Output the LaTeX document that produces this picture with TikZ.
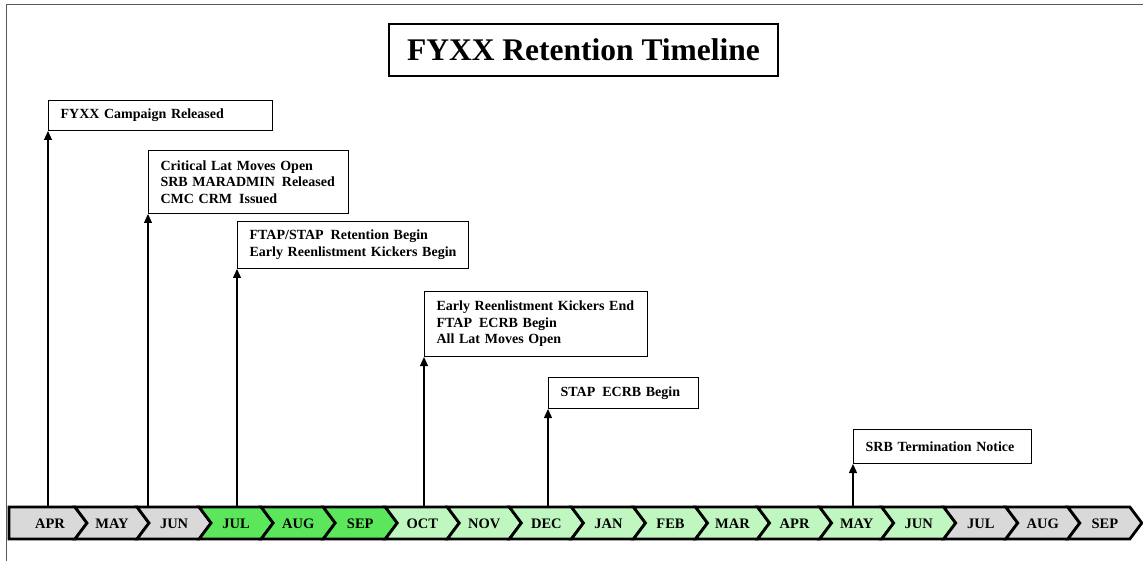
\documentclass[tikz,border=0pt]{standalone}
\usepackage{fontspec}
\setmainfont{Liberation Serif}
\usepackage{xcolor}
\usetikzlibrary{arrows.meta,positioning}

\definecolor{mgrey}{HTML}{D9D9D9}
\definecolor{mgreen}{HTML}{5CE65C}
\definecolor{mlight}{HTML}{C0F7C0}

\begin{document}
\begin{tikzpicture}[
        x=1pt, y=-1pt,
        event/.style={rectangle, draw, line width=1.2pt, anchor=south west, align=left,
            inner xsep=12pt, inner ysep=0pt,
            font=\fontsize{14}{16.5}\selectfont\bfseries},
        title/.style={rectangle, draw, line width=1.2pt, minimum width=389pt, minimum height=52pt,
            font=\fontsize{31.5}{33}\selectfont\bfseries},
        tick/.style={-{Triangle[width=8pt,length=9pt]}, line width=1.3pt},
        month/.style={anchor=base, font=\fontsize{14.5}{16}\selectfont\bfseries},
        chev/.style={draw, line width=2.8pt, line join=miter}
    ]
    \useasboundingbox (0,0) rectangle (1143,561);

    % frame
    \draw[black!65, line width=1pt] (6,561) -- (6,5) -- (1143,5);

    \node (title) [title] at (583.5,50) {FYXX Retention Timeline};

    % month bar
    \foreach \m/\c [count=\i from 0] in {APR/mgrey, MAY/mgrey, JUN/mgrey, JUL/mgreen, AUG/mgreen, SEP/mgreen,
        OCT/mlight, NOV/mlight, DEC/mlight, JAN/mlight, FEB/mlight, MAR/mlight, APR/mlight, MAY/mlight, JUN/mlight,
        JUL/mgrey, AUG/mgrey, SEP/mgrey} {
        \pgfmathsetmacro{\r}{75+62.05*\i}
        \pgfmathsetmacro{\l}{\r-62.05}
        \ifnum\i=0
            \draw[chev, fill=\c] (9,507) -- (\r,507) -- (\r+12,523) -- (\r,539) -- (9,539) -- cycle;
        \else
            \draw[chev, fill=\c] (\l,507) -- (\r,507) -- (\r+12,523) -- (\r,539) -- (\l,539) -- (\l+12,523) -- cycle;
        \fi
        \node (m\i) [month] at (\r-25,528) {\m};
    }

    % events
    \node (campaign) [event, text width=200pt, minimum height=30pt] at (48,131) {FYXX Campaign Released};
    \node (latmoves) [event, text width=176pt, minimum height=63pt] at (148,214)
        {Critical Lat Moves Open\\SRB MARADMIN\ \,Released\\CMC CRM\ \,Issued};
    \node (retention) [event, text width=207pt, minimum height=47pt] at (237,269)
        {FTAP/STAP\ \,Retention Begin\\Early Reenlistment Kickers Begin};
    \node (kickers) [event, text width=199pt, minimum height=65pt] at (424,357)
        {Early Reenlistment Kickers End\\FTAP\ \,ECRB Begin\\All Lat Moves Open};
    \node (stap) [event, text width=126pt, minimum height=31pt] at (548,409) {STAP\ \,ECRB Begin};
    \node (srb) [event, text width=154pt, minimum height=34pt] at (853,464) {SRB Termination Notice};

    \coordinate (t-apr) at (48,507);
    \coordinate (t-jun) at (148,507);
    \coordinate (t-jul) at (237,507);
    \coordinate (t-oct) at (424,507);
    \coordinate (t-dec) at (548,507);
    \coordinate (t-may) at (853,507);

    \draw[tick] (t-apr) -- (campaign.south west);
    \draw[tick] (t-jun) -- (latmoves.south west);
    \draw[tick] (t-jul) -- (retention.south west);
    \draw[tick] (t-oct) -- (kickers.south west);
    \draw[tick] (t-dec) -- (stap.south west);
    \draw[tick] (t-may) -- (srb.south west);

\end{tikzpicture}
\end{document}
